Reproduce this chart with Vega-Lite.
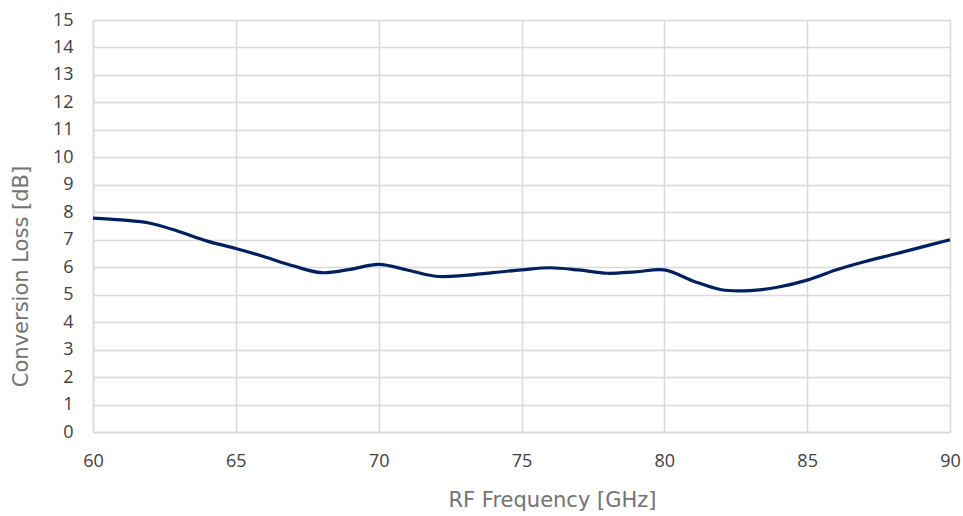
{
  "$schema": "https://vega.github.io/schema/vega-lite/v6.json",
  "width": 857,
  "height": 412,
  "autosize": "none",
  "padding": {"left": 93, "top": 20, "right": 13, "bottom": 84},
  "background": "white",
  "config": {
    "view": {"stroke": null},
    "axis": {
      "gridColor": "#d9d9d9",
      "gridWidth": 1.5,
      "domainColor": "#d9d9d9",
      "domainWidth": 1.5,
      "ticks": false,
      "labelFont": "Open Sans",
      "labelFontSize": 18,
      "labelColor": "#404040",
      "titleFont": "DejaVu Sans",
      "titleFontSize": 21,
      "titleFontWeight": "normal",
      "titleColor": "#737373"
    }
  },
  "data": {
    "values": [
      {"f": 60, "loss": 7.79}, {"f": 61, "loss": 7.72}, {"f": 62, "loss": 7.6},
      {"f": 63, "loss": 7.3}, {"f": 64, "loss": 6.95}, {"f": 65, "loss": 6.68},
      {"f": 66, "loss": 6.38}, {"f": 67, "loss": 6.05}, {"f": 68, "loss": 5.8},
      {"f": 69, "loss": 5.92}, {"f": 70, "loss": 6.1}, {"f": 71, "loss": 5.9},
      {"f": 72, "loss": 5.67}, {"f": 73, "loss": 5.7}, {"f": 74, "loss": 5.8},
      {"f": 75, "loss": 5.9}, {"f": 76, "loss": 5.98}, {"f": 77, "loss": 5.9},
      {"f": 78, "loss": 5.78}, {"f": 79, "loss": 5.83}, {"f": 80, "loss": 5.9},
      {"f": 81, "loss": 5.5}, {"f": 82, "loss": 5.18}, {"f": 83, "loss": 5.15},
      {"f": 84, "loss": 5.28}, {"f": 85, "loss": 5.53}, {"f": 86, "loss": 5.9},
      {"f": 87, "loss": 6.2}, {"f": 88, "loss": 6.46}, {"f": 89, "loss": 6.73},
      {"f": 90, "loss": 7.0}
    ]
  },
  "mark": {"type": "line", "interpolate": "catmull-rom", "color": "#002060", "strokeWidth": 3.2},
  "encoding": {
    "x": {
      "field": "f", "type": "quantitative",
      "scale": {"domain": [60, 90], "nice": false, "zero": false},
      "axis": {"values": [60, 65, 70, 75, 80, 85, 90], "title": "RF Frequency [GHz]", "labelPadding": 20, "titlePadding": 19, "titleX": 459, "labelFlush": false}
    },
    "y": {
      "field": "loss", "type": "quantitative",
      "scale": {"domain": [0, 15], "nice": false},
      "axis": {"values": [0,1,2,3,4,5,6,7,8,9,10,11,12,13,14,15], "title": "Conversion Loss [dB]", "labelPadding": 20, "titlePadding": 21, "titleY": 256}
    }
  }
}
